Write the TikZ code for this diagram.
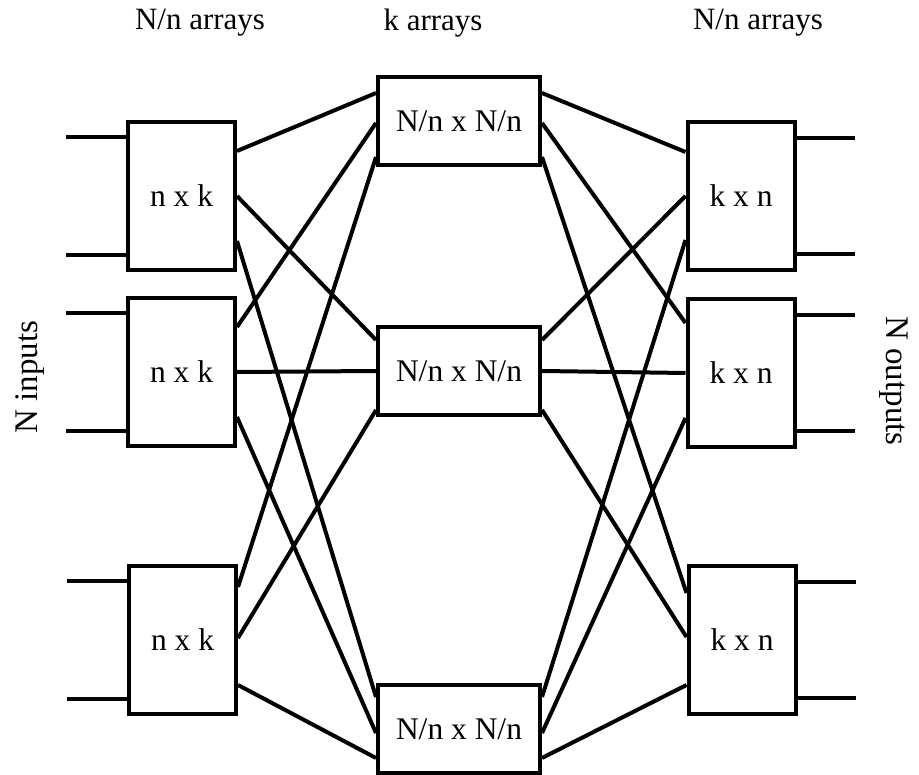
\documentclass[tikz,border=0pt]{standalone}
\usepackage{fontspec}
\setmainfont{Liberation Serif}
\begin{document}
\begin{tikzpicture}[x=1pt,y=-1pt,
  wire/.style={line width=4pt},
  swbox/.style={draw,line width=4pt,minimum width=107pt,minimum height=148pt,
    inner sep=0pt,font=\fontsize{31.5}{36}\selectfont},
  midbox/.style={draw,line width=4pt,minimum width=162pt,minimum height=88pt,
    inner sep=0pt,font=\fontsize{31.5}{36}\selectfont},
  lab/.style={font=\fontsize{31}{36}\selectfont,inner sep=0pt},
  sidelab/.style={font=\fontsize{33}{38}\selectfont,inner sep=0pt}]
\useasboundingbox (0,0) rectangle (919,775);

% first stage
\node[swbox] (L1) at (181.5,196) {n x k};
\node[swbox] (L2) at (181.5,372) {n x k};
\node[swbox] (L3) at (182.5,640) {n x k};
% middle stage
\node[midbox] (M1) at (459,121) {N/n x N/n};
\node[midbox] (M2) at (459,371) {N/n x N/n};
\node[midbox] (M3) at (459,729) {N/n x N/n};
% last stage
\node[swbox] (R1) at (741,196) {k x n};
\node[swbox] (R2) at (741,373) {k x n};
\node[swbox] (R3) at (742,640) {k x n};

% labels
\node[lab] (tl) at (200,23) {N/n arrays};
\node[lab] (tm) at (433,23) {k arrays};
\node[lab] (tr) at (758,23) {N/n arrays};
\node[sidelab,rotate=90] (ni) at (30,377) {N inputs};
\node[sidelab,rotate=-90] (no) at (894,381) {N outputs};

% inputs and outputs
\foreach \b in {L1,L2,L3}{
  \draw[wire] ([yshift=59pt]\b.west) -- ++(-60,0);
  \draw[wire] ([yshift=-59pt]\b.west) -- ++(-60,0);
}
\foreach \b in {R1,R2,R3}{
  \draw[wire] ([yshift=58pt]\b.east) -- ++(58,0);
  \draw[wire] ([yshift=-58pt]\b.east) -- ++(58,0);
}

% first stage to middle stage
\draw[wire] ([yshift=45pt]L1.east) -- ([yshift=28pt]M1.west);
\draw[wire] (L1.east) -- ([yshift=31pt]M2.west);
\draw[wire] ([yshift=-45pt]L1.east) -- ([yshift=32pt]M3.west);
\draw[wire] ([yshift=45pt]L2.east) -- ([yshift=-2pt]M1.west);
\draw[wire] (L2.east) -- (M2.west);
\draw[wire] ([yshift=-45pt]L2.east) -- ([yshift=-4pt]M3.west);
\draw[wire] ([yshift=53pt]L3.east) -- ([yshift=-36pt]M1.west);
\draw[wire] ([yshift=2pt]L3.east) -- ([yshift=-39pt]M2.west);
\draw[wire] ([yshift=-45pt]L3.east) -- ([yshift=-29pt]M3.west);

% middle stage to last stage
\draw[wire] ([yshift=28pt]M1.east) -- ([yshift=44pt]R1.west);
\draw[wire] ([yshift=31pt]M2.east) -- (R1.west);
\draw[wire] ([yshift=32pt]M3.east) -- ([yshift=-44pt]R1.west);
\draw[wire] ([yshift=-2pt]M1.east) -- ([yshift=50pt]R2.west);
\draw[wire] (M2.east) -- (R2.west);
\draw[wire] ([yshift=-4pt]M3.east) -- ([yshift=-45pt]R2.west);
\draw[wire] ([yshift=-36pt]M1.east) -- ([yshift=47pt]R3.west);
\draw[wire] ([yshift=-39pt]M2.east) -- ([yshift=3pt]R3.west);
\draw[wire] ([yshift=-29pt]M3.east) -- ([yshift=-45pt]R3.west);
\end{tikzpicture}
\end{document}
